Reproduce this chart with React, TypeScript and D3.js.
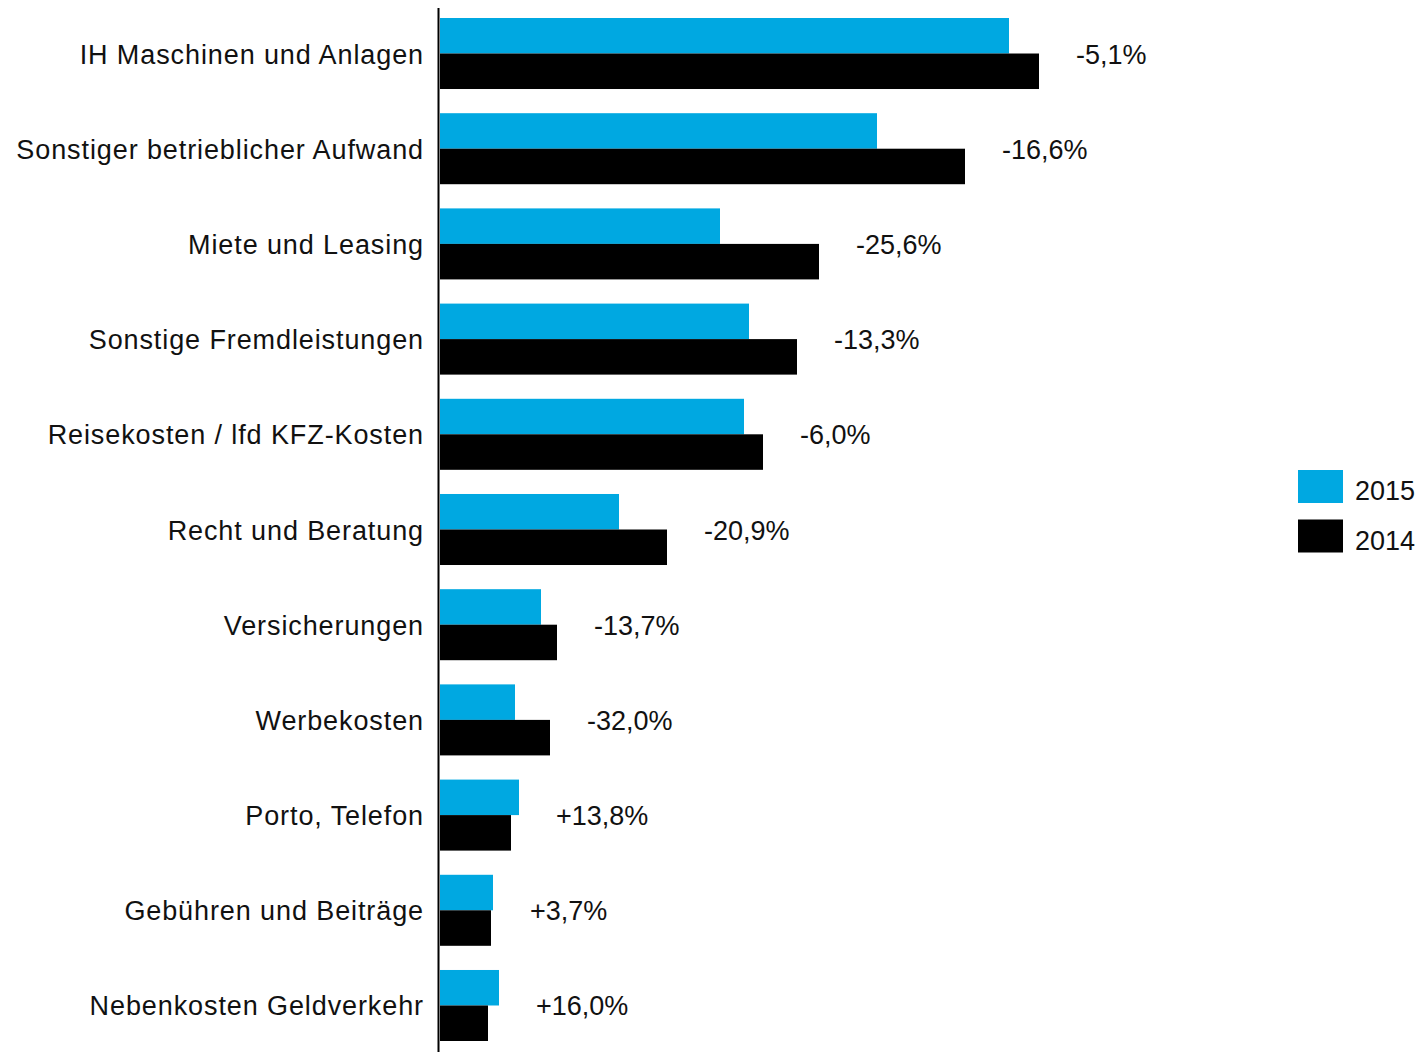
import React from "react";
import * as d3 from "d3";

const categories = [
  "IH Maschinen und Anlagen",
  "Sonstiger betrieblicher Aufwand",
  "Miete und Leasing",
  "Sonstige Fremdleistungen",
  "Reisekosten / lfd KFZ-Kosten",
  "Recht und Beratung",
  "Versicherungen",
  "Werbekosten",
  "Porto, Telefon",
  "Gebühren und Beiträge",
  "Nebenkosten Geldverkehr",
];
const values2015 = [569, 437, 280, 309, 304, 179, 101, 75, 79, 53, 59];
const values2014 = [599, 525, 379, 357, 323, 227, 117, 110, 71, 51, 48];
const changeLabels = ["-5,1%", "-16,6%", "-25,6%", "-13,3%", "-6,0%", "-20,9%", "-13,7%", "-32,0%", "+13,8%", "+3,7%", "+16,0%"];
const seriesNames = ["2015", "2014"];
const seriesColors = ["#00A8E1", "#000000"];

const W = 1421;
const H = 1052;
const FONT = "'Liberation Sans', Arial, sans-serif";

export default function App() {
  const x = d3.scaleLinear().domain([0, 600]).range([440, 1040]);
  const y = d3.scaleBand<string>().domain(categories).range([18, 1041]).paddingInner(0.254).paddingOuter(0);
  const sub = d3.scaleBand<string>().domain(seriesNames).range([0, y.bandwidth()]).padding(0);
  const series = [values2015, values2014];

  return (
    <svg width={W} height={H} style={{ position: "absolute", left: 0, top: 0, background: "#fff" }}>
      {categories.map((c, i) => {
        const y0 = y(c)!;
        const mid = y0 + y.bandwidth() / 2;
        const maxV = Math.max(values2015[i], values2014[i]);
        return (
          <g key={c}>
            {series.map((vals, s) => (
              <rect
                key={s}
                x={x(0)}
                y={y0 + sub(seriesNames[s])!}
                width={x(vals[i]) - x(0)}
                height={sub.bandwidth()}
                fill={seriesColors[s]}
              />
            ))}
            <text x={424} y={mid + 10} textAnchor="end" fontFamily={FONT} fontSize={27} letterSpacing={0.9} fill="#111">
              {c}
            </text>
            <text x={x(maxV) + 37} y={mid + 10} textAnchor="start" fontFamily={FONT} fontSize={27} fill="#111">
              {changeLabels[i]}
            </text>
          </g>
        );
      })}
      <line x1={438.5} x2={438.5} y1={8} y2={H} stroke="#000" strokeWidth={2} />
      {seriesNames.map((n, s) => (
        <g key={n} transform={`translate(1298, ${470 + s * 49.5})`}>
          <rect x={0} y={0} width={45} height={33} fill={seriesColors[s]} />
          <text x={57} y={30} fontFamily={FONT} fontSize={27} fill="#111">
            {n}
          </text>
        </g>
      ))}
    </svg>
  );
}
